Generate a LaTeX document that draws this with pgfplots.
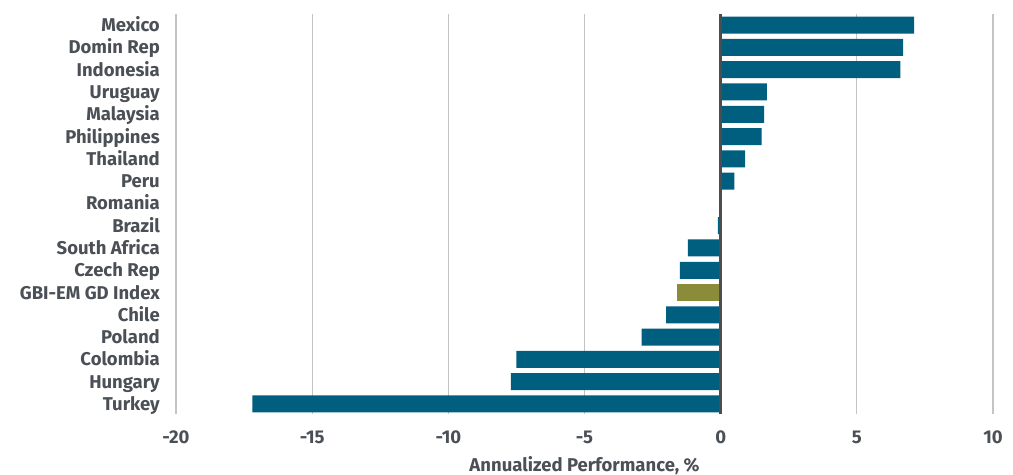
\documentclass[border=0pt]{standalone}
\usepackage{pgfplots}
\pgfplotsset{compat=1.18}
\usepackage{fontspec}
\setmainfont{Fira Sans}
\definecolor{barblue}{HTML}{005E7E}
\definecolor{barolive}{HTML}{8A8C3A}
\definecolor{txtgray}{HTML}{4B4F56}
\definecolor{gridgray}{HTML}{C4C4C4}
\definecolor{zerogray}{HTML}{4D4D50}
\begin{document}
\begin{tikzpicture}
\begin{axis}[
  scale only axis,
  width=817pt, height=400pt,
  xbar, bar width=17pt,
  xmin=-20, xmax=10,
  ymin=-0.45, ymax=17.5,
  xtick={-20,-15,-10,-5,0,5,10},
  ytick={0,...,17},
  yticklabels={Turkey,Hungary,Colombia,Poland,Chile,GBI-EM GD Index,Czech Rep,South Africa,Brazil,Romania,Peru,Thailand,Philippines,Malaysia,Uruguay,Indonesia,Domin Rep,Mexico},
  major tick length=0pt,
  axis line style={draw=none},
  xmajorgrids, grid style={gridgray, line width=1.3pt},
  /pgf/number format/assume math mode=true,
  tick label style={font=\fontsize{18.5}{20}\selectfont\bfseries, text=txtgray},
  y tick label style={inner sep=0pt, xshift=-16pt, anchor=east, text height=13pt, text depth=0pt},
  x tick label style={inner sep=0pt, anchor=north, yshift=-16pt, text height=13pt, text depth=0pt},
  xlabel={Annualized Performance, \%},
  xlabel style={font=\fontsize{18.5}{20}\selectfont\bfseries, text=txtgray, inner sep=0pt,
    at={(axis description cs:0.5,0)}, anchor=base, yshift=-57pt, text depth=0pt},
  clip=false,
]
\addplot[fill=barblue, draw=none, bar shift=0pt] coordinates {
(-17.2,0) (-7.7,1) (-7.5,2) (-2.9,3) (-2.0,4) (-1.5,6) (-1.2,7) (-0.1,8) (0,9) (0.5,10) (0.9,11) (1.5,12) (1.6,13) (1.7,14) (6.6,15) (6.7,16) (7.1,17)};
\addplot[fill=barolive, draw=none, bar shift=0pt] coordinates {(-1.6,5)};
\draw[zerogray, line width=3pt] (axis cs:0,-0.45) -- (axis cs:0,17.5);
\end{axis}
\path (current axis.south west) ++(-176pt,-60pt) coordinate (bl);
\path (current axis.north east) ++(20pt,14pt) coordinate (tr);
\path[use as bounding box] (bl) rectangle (tr);
\end{tikzpicture}
\end{document}
